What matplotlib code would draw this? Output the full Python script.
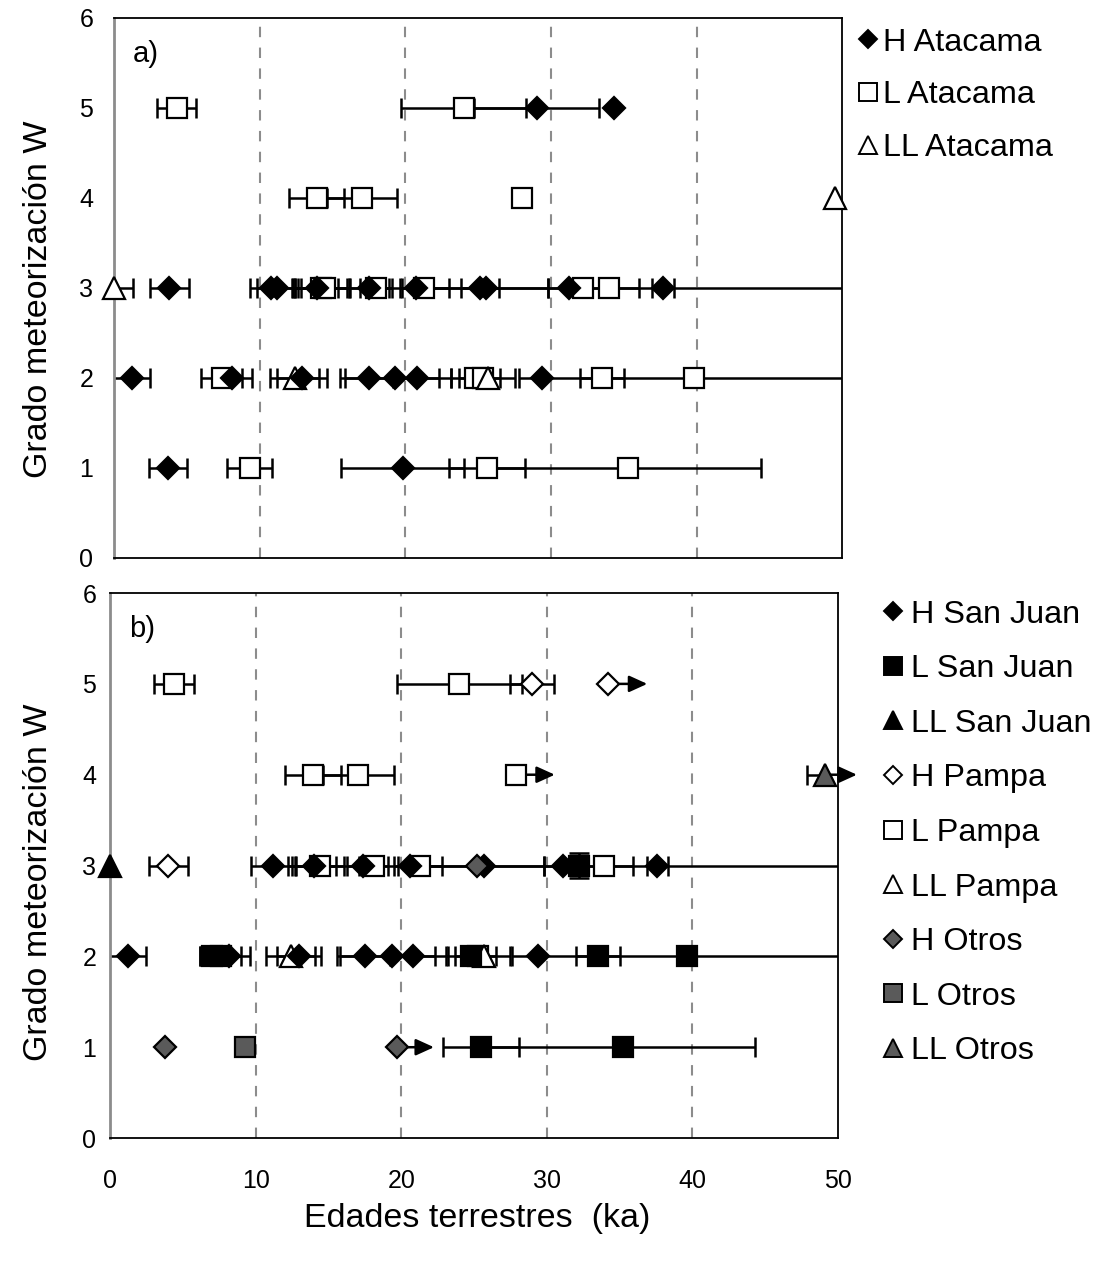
import matplotlib
matplotlib.use("Agg")
import matplotlib.pyplot as plt
from matplotlib.lines import Line2D
import numpy as np

plt.rcParams['font.family'] = ['Liberation Sans', 'DejaVu Sans']

# ---- panel a) Atacama ----
a_H_x = [29.0, 34.3, 3.8, 10.8, 11.2, 13.9, 17.5, 20.7, 25.1, 25.5, 31.2, 37.7,
         1.2, 8.1, 12.9, 17.5, 19.3, 20.8, 29.4, 3.7, 19.8]
a_H_y = [5, 5, 3, 3, 3, 3, 3, 3, 3, 3, 3, 3, 2, 2, 2, 2, 2, 2, 2, 1, 1]
a_H_err = [4.3, 0, 1.35, 1.5, 1.4, 1.5, 1.4, 0.95, 1.3, 4.3, 1.4, 0.75,
           1.25, 1.4, 1.7, 1.65, 3.8, 1.5, 0, 1.3, 4.25]

a_L_x = [4.3, 24.0, 13.9, 17.0, 28.0, 14.2, 14.5, 18.0, 21.3, 32.2, 34.0,
         7.4, 24.8, 25.3, 33.5, 39.8, 9.3, 25.6, 35.3]
a_L_y = [5, 5, 4, 4, 4, 3, 3, 3, 3, 3, 3, 2, 2, 2, 2, 2, 1, 1, 1]
a_L_err = [1.35, 4.3, 1.9, 2.4, 0, 1.8, 1.7, 1.1, 1.7, 20, 2.0,
           1.4, 1.1, 2.2, 1.5, 12, 1.55, 2.6, 9.1]

a_LL_x = [49.5, 0.0, 12.4, 25.7]
a_LL_y = [4, 3, 2, 2]
a_LL_err = [0, 1.3, 1.7, 0.8]

# ---- panel b) by origin ----
sj_H_x = [11.2, 14.0, 17.4, 20.6, 25.7, 31.1, 37.6, 1.2, 8.2, 13.0, 17.5, 19.4, 20.8, 29.4]
sj_H_y = [3, 3, 3, 3, 3, 3, 3, 2, 2, 2, 2, 2, 2, 2]
sj_H_err = [1.5, 1.5, 1.1, 1.1, 4.1, 1.3, 0.7, 1.25, 1.4, 1.5, 1.7, 3.8, 1.5, 0]

sj_L_x = [32.2, 7.0, 7.6, 24.8, 33.5, 39.6, 25.5, 35.2]
sj_L_y = [3, 2, 2, 2, 2, 2, 1, 1]
sj_L_err = [20, 0.85, 1.4, 1.1, 1.5, 12, 2.6, 9.1]
sj_L_yerr = [0.14, 0, 0, 0, 0, 0, 0, 0]

sj_LL_x = [0.0]
sj_LL_y = [3]

pa_H_x = [29.0, 34.2, 4.0]
pa_H_y = [5, 5, 3]
pa_H_err = [1.5, 0, 1.35]
pa_H_arrow = [0, 2.7, 0]

pa_L_x = [4.4, 24.0, 13.95, 17.05, 27.9, 14.4, 18.1, 21.3, 33.9, 25.3]
pa_L_y = [5, 5, 4, 4, 4, 3, 3, 3, 3, 2]
pa_L_err = [1.4, 4.3, 1.9, 2.45, 0, 1.65, 1.0, 1.5, 2.0, 2.2]
pa_L_arrow = [0, 0, 0, 0, 2.65, 0, 0, 0, 0, 0]

pa_LL_x = [12.4, 25.7]
pa_LL_y = [2, 2]
pa_LL_err = [1.7, 0.8]

ot_H_x = [25.2, 3.8, 19.7]
ot_H_y = [3, 1, 1]
ot_H_arrow = [0, 0, 2.55]

ot_L_x = [9.3]
ot_L_y = [1]

ot_LL_x = [49.1]
ot_LL_y = [4]
ot_LL_errlo = [1.2]
ot_LL_arrow = [2.2]

GRAY = '#5a5a5a'
MS = {'D': 11, 's': 15, '^': 16}


def errbars(ax, x, y, xlo, xhi, yerr=None):
    x = np.array(x, float)
    y = np.array(y, float)
    xlo = np.array(xlo, float)
    xhi = np.array(xhi, float)
    m = (xlo > 0) | (xhi > 0)
    if m.any():
        ax.errorbar(x[m], y[m], xerr=[xlo[m], xhi[m]], fmt='none', ecolor='black',
                    elinewidth=1.8, capsize=7, capthick=1.8, zorder=2)
    if yerr is not None:
        yerr = np.array(yerr, float)
        m = yerr > 0
        if m.any():
            ax.errorbar(x[m], y[m], yerr=yerr[m], fmt='none', ecolor='black',
                        elinewidth=1.8, capsize=7, capthick=1.8, zorder=2)


def marks(ax, x, y, marker, face):
    ax.plot(x, y, linestyle='none', marker=marker, ms=MS[marker], mfc=face,
            mec='black', mew=1.6, zorder=4, clip_on=False)


def arrows(ax, x, y, length):
    for xi, yi, L in zip(x, y, length):
        if L > 0:
            ax.annotate('', xy=(xi + L, yi), xytext=(xi, yi),
                        arrowprops=dict(arrowstyle='-|>,head_length=1.1,head_width=0.5',
                                        color='black', lw=1.8, shrinkA=0, shrinkB=0),
                        annotation_clip=False, zorder=3)


def style(ax, show_x, ypad, ylab_x, ylab_y):
    ax.set_xlim(0, 50)
    ax.set_ylim(0, 6)
    ax.set_xticks([0, 10, 20, 30, 40, 50])
    ax.set_yticks(range(7))
    for v in [10, 20, 30, 40]:
        ax.axvline(v, color='#8c8c8c', lw=1.5, ls=(0, (5, 5)), zorder=1)
    for s in ['top', 'right', 'bottom']:
        ax.spines[s].set_color('black')
        ax.spines[s].set_linewidth(1.3)
    ax.spines['left'].set_color('#8c8c8c')
    ax.spines['left'].set_linewidth(2)
    ax.tick_params(length=0, labelsize=18)
    ax.tick_params(axis='y', pad=ypad)
    if show_x:
        ax.tick_params(axis='x', pad=22)
    else:
        ax.tick_params(axis='x', labelbottom=False)
    ax.set_ylabel('Grado meteorización W', fontsize=24.5)
    ax.yaxis.set_label_coords(ylab_x, ylab_y)


fig = plt.figure(figsize=(10.97, 12.61), dpi=100)
ax_a = fig.add_axes([0.104, 0.5575, 0.664, 0.4283])
ax_b = fig.add_axes([0.1003, 0.0975, 0.6636, 0.4322])

# panel a
style(ax_a, False, 15, -0.082, 0.48)
errbars(ax_a, a_L_x, a_L_y, a_L_err, a_L_err)
errbars(ax_a, a_H_x, a_H_y, a_H_err, a_H_err)
errbars(ax_a, a_LL_x, a_LL_y, a_LL_err, a_LL_err)
marks(ax_a, a_L_x, a_L_y, 's', 'white')
marks(ax_a, a_LL_x, a_LL_y, '^', 'white')
marks(ax_a, a_H_x, a_H_y, 'D', 'black')
ax_a.text(0.026, 0.96, 'a)', transform=ax_a.transAxes, fontsize=21, va='top')

# panel b
style(ax_b, True, 10, -0.077, 0.47)
errbars(ax_b, pa_L_x, pa_L_y, pa_L_err, pa_L_err)
errbars(ax_b, sj_L_x, sj_L_y, sj_L_err, sj_L_err, sj_L_yerr)
errbars(ax_b, sj_H_x, sj_H_y, sj_H_err, sj_H_err)
errbars(ax_b, pa_H_x, pa_H_y, pa_H_err, pa_H_err)
errbars(ax_b, pa_LL_x, pa_LL_y, pa_LL_err, pa_LL_err)
errbars(ax_b, ot_LL_x, ot_LL_y, ot_LL_errlo, [0])
arrows(ax_b, pa_H_x, pa_H_y, pa_H_arrow)
arrows(ax_b, pa_L_x, pa_L_y, pa_L_arrow)
arrows(ax_b, ot_H_x, ot_H_y, ot_H_arrow)
arrows(ax_b, ot_LL_x, ot_LL_y, ot_LL_arrow)
marks(ax_b, pa_L_x, pa_L_y, 's', 'white')
marks(ax_b, pa_LL_x, pa_LL_y, '^', 'white')
marks(ax_b, sj_L_x, sj_L_y, 's', 'black')
marks(ax_b, sj_LL_x, sj_LL_y, '^', 'black')
marks(ax_b, sj_H_x, sj_H_y, 'D', 'black')
marks(ax_b, pa_H_x, pa_H_y, 'D', 'white')
marks(ax_b, ot_H_x, ot_H_y, 'D', GRAY)
marks(ax_b, ot_L_x, ot_L_y, 's', GRAY)
marks(ax_b, ot_LL_x, ot_LL_y, '^', GRAY)
ax_b.text(0.026, 0.96, 'b)', transform=ax_b.transAxes, fontsize=21, va='top')
ax_b.set_xlabel('Edades terrestres  (ka)', fontsize=24.5)
ax_b.xaxis.set_label_coords(0.504, -0.12)


def proxy(marker, face):
    return Line2D([], [], linestyle='none', marker=marker, ms=MS[marker] * 0.85,
                  mfc=face, mec='black', mew=1.4)


leg_a_labels = ['H Atacama', 'L Atacama', 'LL Atacama']
leg_a = [proxy('D', 'black'), proxy('s', 'white'), proxy('^', 'white')]
fig.legend(leg_a, leg_a_labels, loc='upper left', bbox_to_anchor=(0.784, 0.978),
           frameon=False, fontsize=23.3, handlelength=0.5, handletextpad=0.2,
           labelspacing=0.7, borderpad=0, borderaxespad=0)

leg_b_labels = ['H San Juan', 'L San Juan', 'LL San Juan', 'H Pampa', 'L Pampa',
                'LL Pampa', 'H Otros', 'L Otros', 'LL Otros']
leg_b = [proxy('D', 'black'), proxy('s', 'black'), proxy('^', 'black'),
         proxy('D', 'white'), proxy('s', 'white'), proxy('^', 'white'),
         proxy('D', GRAY), proxy('s', GRAY), proxy('^', GRAY)]
fig.legend(leg_b, leg_b_labels, loc='upper left', bbox_to_anchor=(0.8067, 0.5245),
           frameon=False, fontsize=23.3, handlelength=0.5, handletextpad=0.3,
           labelspacing=0.76, borderpad=0, borderaxespad=0)

fig.savefig('out.png', dpi=100)
